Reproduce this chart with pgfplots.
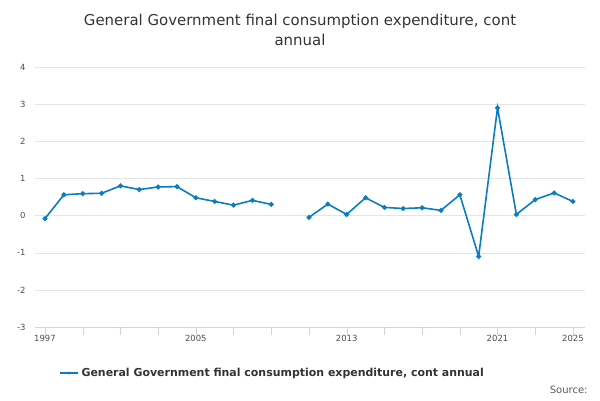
\documentclass[border=0pt]{standalone}
\usepackage{pgfplots}
\pgfplotsset{compat=1.18}
\usepackage{fontspec}
\setmainfont{DejaVu Sans}
\definecolor{line}{HTML}{0A7DC0}
\definecolor{tickc}{HTML}{CCD6EB}
\begin{document}
\begin{tikzpicture}[x=1bp,y=1bp]
\path[use as bounding box] (0,0) rectangle (600,400);
\node[font=\fontsize{15}{20}\selectfont,color=black!80,align=center] at (300,370) {General Government final consumption expenditure, cont\\annual};
\begin{axis}[at={(35bp,73bp)},anchor=south west,scale only axis,width=550bp,height=260bp,
 xmin=1996.47,xmax=2025.64,ymin=-3,ymax=4,
 ytick={-3,...,4},xtick={1997,1999,...,2025},
 xticklabels={1997,,,,2005,,,,2013,,,,2021,,2025},
 ymajorgrids,grid style={black!10},
 axis x line*=bottom,axis y line*=left,
 y axis line style={draw=none},ytick style={draw=none},
 x axis line style={tickc,-},
 xtick style={tickc},major tick length=8bp,tick align=outside,
 ticklabel style={font=\fontsize{8.5}{10}\selectfont,color=black!70},
 /pgf/number format/assume math mode=true,
 yticklabel style={xshift=2bp},
 xticklabel style={yshift=3bp},
 unbounded coords=jump,
 clip=false]
\addplot[line,line width=1.6bp,mark=*,mark size=1.6bp] coordinates {
(1997,-0.08)(1998,0.56)(1999,0.59)(2000,0.6)(2001,0.8)(2002,0.7)(2003,0.77)(2004,0.78)
(2005,0.48)(2006,0.38)(2007,0.28)(2008,0.41)(2009,0.3)(2010,nan)(2011,-0.05)(2012,0.31)
(2013,0.03)(2014,0.48)(2015,0.22)(2016,0.19)(2017,0.21)(2018,0.14)(2019,0.56)(2020,-1.1)
(2021,2.9)(2022,0.03)(2023,0.43)(2024,0.61)(2025,0.38)};
\end{axis}
\draw[line,line width=1.6bp] (60,27)--(78,27);
\fill[line] (69,27) circle (1.6);
\node[anchor=west,font=\fontsize{11}{13}\selectfont\bfseries,color=black!80] at (78,27) {General Government final consumption expenditure, cont annual};
\node[anchor=east,font=\fontsize{10}{12}\selectfont,color=black!65] at (591,10) {Source:};
\end{tikzpicture}
\end{document}
